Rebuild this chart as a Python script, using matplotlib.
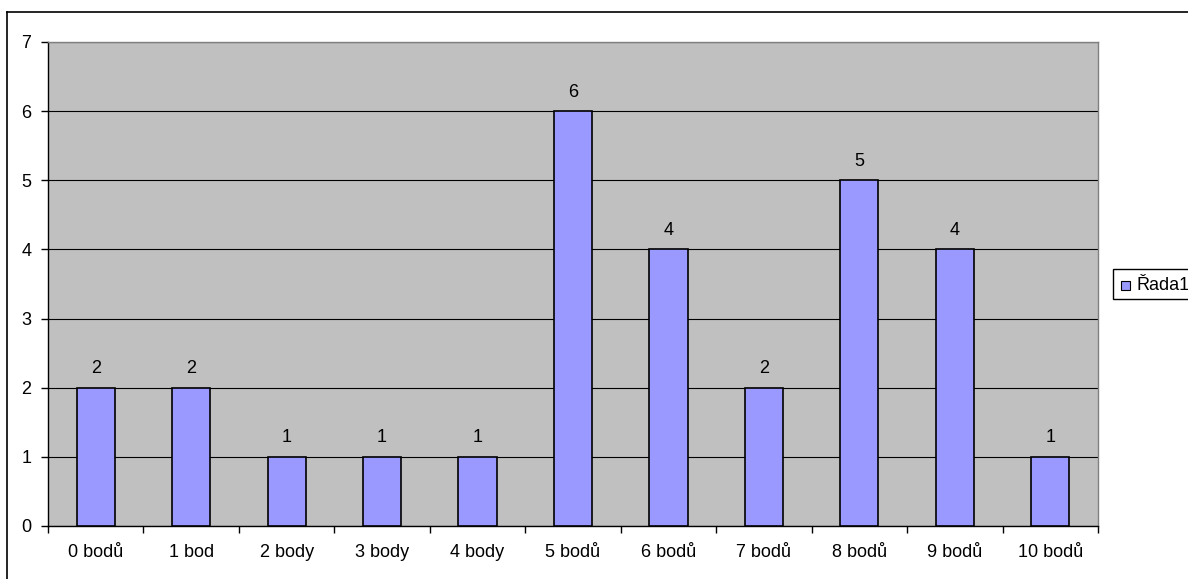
import matplotlib
matplotlib.use("Agg")
import matplotlib.pyplot as plt
from matplotlib.patches import Rectangle
from matplotlib.lines import Line2D

categories = ["0 bodů", "1 bod", "2 body", "3 body", "4 body", "5 bodů",
              "6 bodů", "7 bodů", "8 bodů", "9 bodů", "10 bodů"]
values = [2, 2, 1, 1, 1, 6, 4, 2, 5, 4, 1]
series_name = "Řada1"
y_ticks = [0, 1, 2, 3, 4, 5, 6, 7]

plt.rcParams['font.family'] = ['Liberation Sans', 'DejaVu Sans']
FS = 13

W, H = 1188, 579
fig = plt.figure(figsize=(W / 100, H / 100), dpi=100)
fig.patch.set_facecolor("white")

# plot area in pixels
left, right, top, bottom = 48, 1098, 42, 526
ax = fig.add_axes([left / W, 1 - bottom / H, (right - left) / W, (bottom - top) / H])
ax.set_facecolor("#C0C0C0")

n = len(categories)
xs = list(range(n))
ax.bar(xs, values, width=0.4, color="#9999FF", edgecolor="black", linewidth=1.2, zorder=3)
for x, v in zip(xs, values):
    ax.text(x, v + 0.15, str(v), ha="center", va="bottom", fontsize=FS, color="black", zorder=4)

ax.set_xlim(-0.5, n - 0.5)
ax.set_ylim(0, 7)
ax.set_yticks(y_ticks)
ax.set_yticklabels([str(t) for t in y_ticks], fontsize=FS)
ax.yaxis.grid(True, color="black", linewidth=0.8, zorder=1)
ax.set_axisbelow(True)

ax.set_xticks(xs)
ax.set_xticklabels(categories, fontsize=FS)
ax.tick_params(axis="x", length=0, pad=13)
ax.set_xticks([i - 0.5 for i in range(n + 1)], minor=True)
ax.tick_params(axis="x", which="minor", length=5, width=1, direction="out")
ax.tick_params(axis="y", length=5, width=1, direction="out", pad=7)

for s in ["top", "right"]:
    ax.spines[s].set_color("#808080")
    ax.spines[s].set_linewidth(1)
ax.spines["left"].set_color("black")
ax.spines["bottom"].set_color("black")
ax.spines["left"].set_linewidth(1)
ax.spines["bottom"].set_linewidth(1)

# outer chart border (cropped on right/bottom)
fig.add_artist(Line2D([7 / W, 1.0], [1 - 12 / H, 1 - 12 / H], transform=fig.transFigure,
                      color="black", linewidth=1.2))
fig.add_artist(Line2D([7 / W, 7 / W], [1 - 12 / H, 0.0], transform=fig.transFigure,
                      color="black", linewidth=1.2))

# legend box
lx0, ly0, lx1, ly1 = 1113, 269, 1192, 299
fig.add_artist(Rectangle((lx0 / W, 1 - ly1 / H), (lx1 - lx0) / W, (ly1 - ly0) / H,
                         transform=fig.transFigure, facecolor="white", edgecolor="black",
                         linewidth=1))
fig.add_artist(Rectangle((1121 / W, 1 - 290 / H), 9 / W, 9 / H, transform=fig.transFigure,
                         facecolor="#9999FF", edgecolor="black", linewidth=0.8))
fig.text(1136 / W, 1 - 285 / H, series_name, fontsize=FS, va="center", ha="left")

fig.savefig("out.png", dpi=100, facecolor="white")
